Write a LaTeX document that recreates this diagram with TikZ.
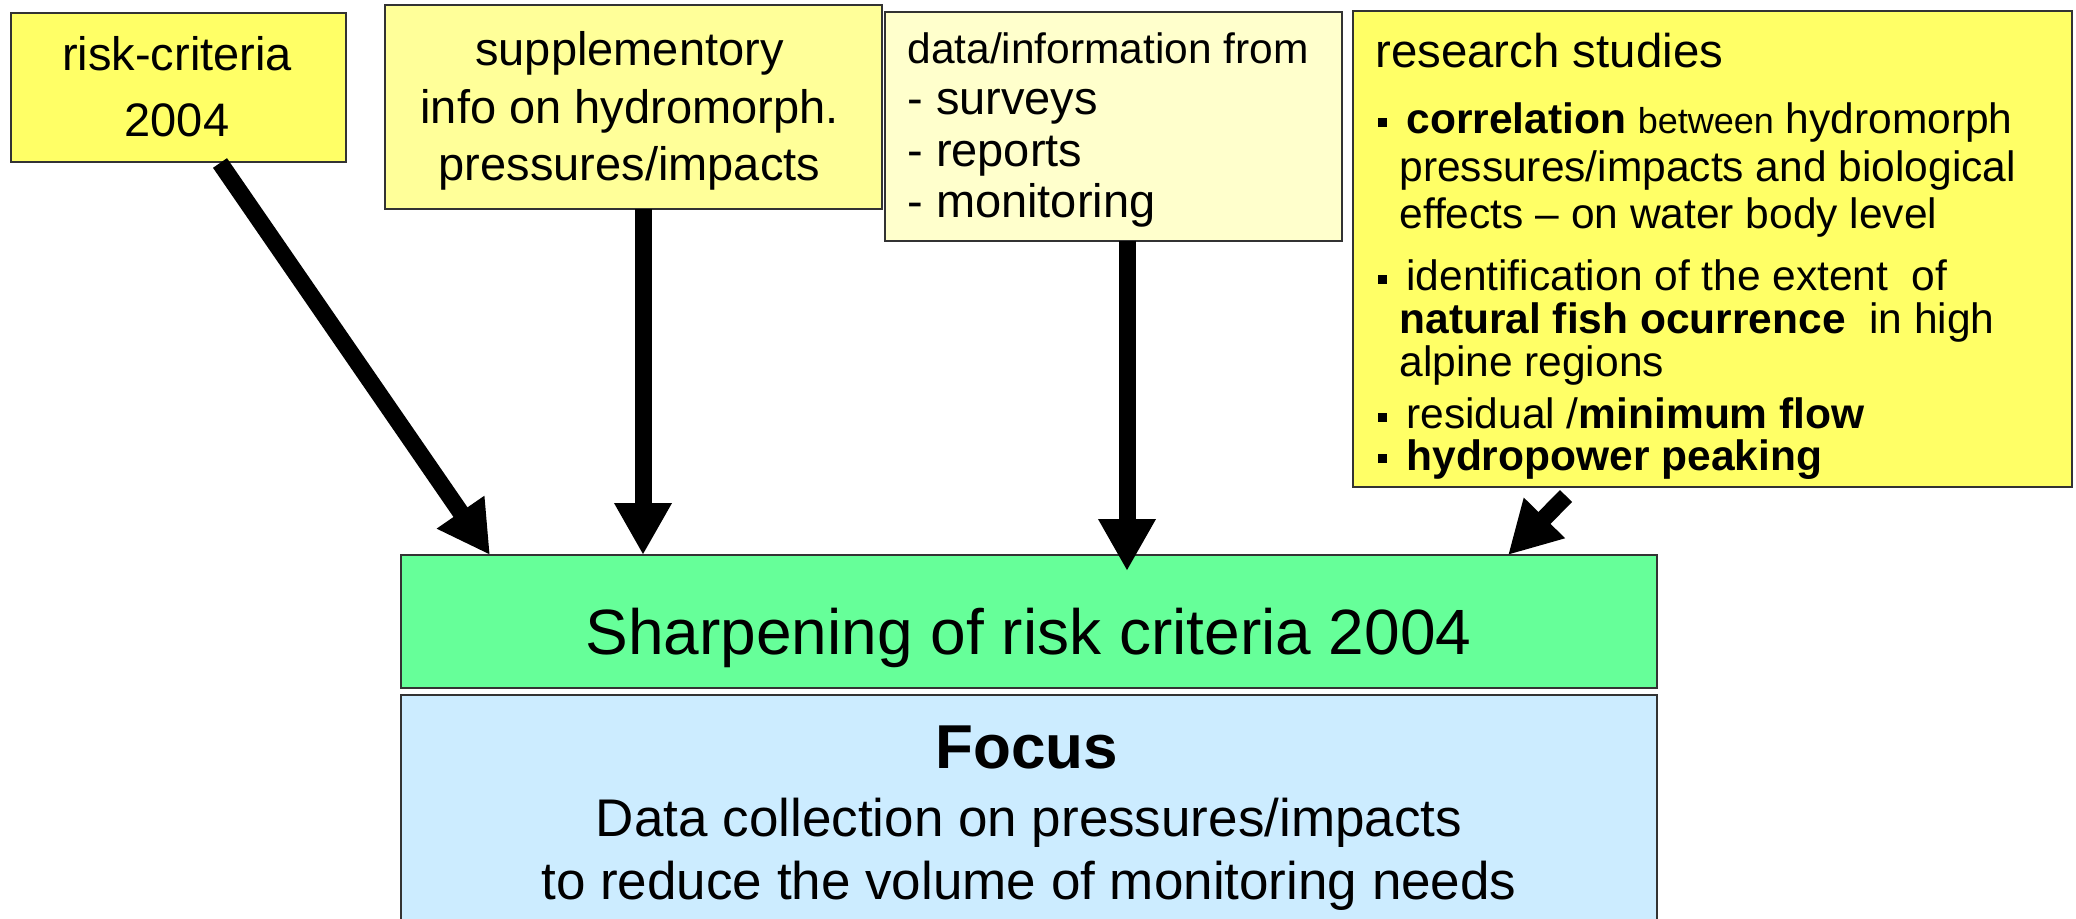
\documentclass[tikz,border=0pt]{standalone}
\usepackage{fontspec}
\setmainfont{Liberation Sans}
\usetikzlibrary{graphs,arrows.meta}
\definecolor{boxyellow}{HTML}{FFFF66}
\definecolor{boxlight}{HTML}{FFFF99}
\definecolor{boxpale}{HTML}{FFFFCC}
\definecolor{boxgreen}{HTML}{66FF99}
\definecolor{boxblue}{HTML}{CCECFF}
\lineskiplimit=-50pt
\newcommand{\bul}{\makebox[14pt][l]{\rule[3.5pt]{4.5pt}{4.5pt}}}
\tikzset{
    yellow/.style ={
        shape=rectangle,
        draw=black!80,
        line width=0.9pt,
        fill=boxyellow,
        inner sep=0pt
    },
    light/.style ={
        yellow,
        fill=boxlight
    },
    pale/.style ={
        yellow,
        fill=boxpale
    },
    green/.style ={
        yellow,
        fill=boxgreen
    },
    blue/.style ={
        yellow,
        fill=boxblue
    },
    txt/.style ={
        inner sep=0pt,
        font=\fontsize{23.5}{28.75}\selectfont
    },
    small/.style ={
        inner sep=0pt,
        font=\fontsize{21.25}{23.75}\selectfont
    }
}

\begin{document}
\begin{tikzpicture}[x=0.5pt,y=-0.5pt,>={Triangle[length=26pt,width=27pt]}]
        \useasboundingbox (0,0) rectangle (2076,919);
        \node[yellow, minimum width=167.5pt, minimum height=74.5pt] (risk) at(178.5,87.5) {};
        \node[light, minimum width=248.5pt, minimum height=102pt] (supp) at(633.5,107) {};
        \node[pale, minimum width=228.5pt, minimum height=114.5pt] (data) at(1113.5,126.5) {};
        \node[yellow, minimum width=359.5pt, minimum height=238pt] (research) at(1712.5,249) {};
        \node[green, minimum width=628pt, minimum height=66.5pt] (sharp) at(1029,621.5) {};
        \node[blue, minimum width=628pt, minimum height=125pt] (focus) at(1029,820) {};
        % texts (base = last line)
        \node[txt, align=center, anchor=base, font=\fontsize{23.5}{33}\selectfont] (risktext) at(177,137) {risk-criteria\\2004};
        \node[txt, align=center, anchor=base] (supptext) at(629.5,181) {supplementory\\info on hydromorph.\\pressures/impacts};
        \node[txt, align=left, anchor=base west, font=\fontsize{23.5}{25.8}\selectfont] (datatext) at(907,218)
            {{\fontsize{21.25}{25.8}\selectfont data/information from}\\- surveys\\- reports\\- monitoring};
        \node[txt, anchor=base west, font=\fontsize{23.7}{28}\selectfont] (head) at(1375,68) {research studies};
        \node[small, align=left, anchor=base west] (item1) at(1378,229)
            {\bul\textbf{correlation} {\fontsize{18}{20}\selectfont between} hydromorph\\
             \hspace*{10.5pt}pressures/impacts and biological\\
             \hspace*{10.5pt}effects – on water body level};
        \node[small, align=left, anchor=base west, font=\fontsize{21.25}{21.5}\selectfont] (item2) at(1378,377)
            {\bul identification of the extent\ \ of\\
             \hspace*{10.5pt}\textbf{natural fish ocurrence}\ \ in high\\
             \hspace*{10.5pt}alpine regions};
        \node[small, anchor=base west] (item3) at(1378,429) {\bul residual /\textbf{minimum flow}};
        \node[small, anchor=base west] (item4) at(1378,470) {\bul\textbf{hydropower peaking}};
        \node[inner sep=0pt, anchor=base, font=\fontsize{32}{38}\selectfont] (sharptext) at(1028.5,654) {Sharpening of risk criteria 2004};
        \node[inner sep=0pt, anchor=base, font=\fontsize{31}{36}\selectfont\bfseries] (focushead) at(1027,768) {Focus};
        \node[inner sep=0pt, align=center, anchor=base, font=\fontsize{26.5}{31.5}\selectfont] (focustext) at(1029,899)
            {Data collection on pressures/impacts\\to reduce the volume of monitoring needs};
        % arrow ends
        \coordinate (a1) at(220,163);
        \coordinate (b1) at(490,555);
        \coordinate (a2) at(643,209);
        \coordinate (b2) at(643,555);
        \coordinate (a3) at(1127,241);
        \coordinate (b3) at(1127,571);
        \coordinate (a4) at(1566,496);
        \coordinate (b4) at(1508,555);
        \graph[edges={line width=8.5pt}]{
            (a1)->(b1);
            (a2)->(b2);
            (a3)->(b3);
            (a4)->(b4);
        };
    \end{tikzpicture}
\end{document}
